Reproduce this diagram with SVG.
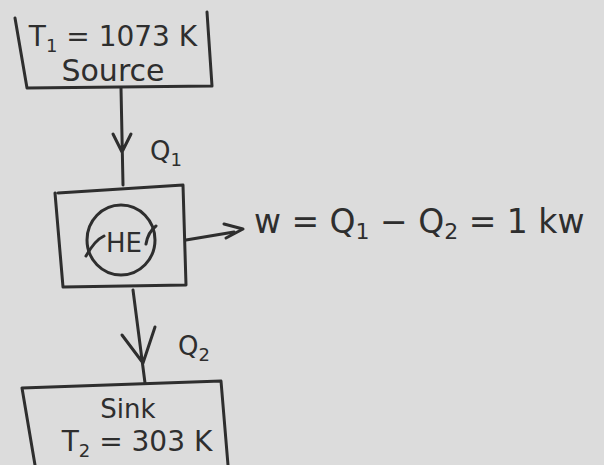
<svg xmlns="http://www.w3.org/2000/svg" width="604" height="465" viewBox="0 0 604 465">
<style>
.ln{fill:none;stroke:#2e2e2e;stroke-width:3;stroke-linecap:round;stroke-linejoin:round}
.tx{font-family:"DejaVu Sans","Liberation Sans",sans-serif;fill:#2e2e2e}
</style>
<rect width="604" height="465" fill="#dcdcdc"/>
<g id="source">
<path class="ln" d="M15 18 L27 88 L212 86 M207 12 L212 86"/>
<text class="tx" x="113" y="46" font-size="28" text-anchor="middle">T<tspan font-size="18" dy="6">1</tspan><tspan dy="-6"> = 1073 K</tspan></text>
<text class="tx" x="113" y="81" font-size="30" text-anchor="middle">Source</text>
</g>
<g id="engine">
<path class="ln" d="M55 193 L63 287 L186 285 L183 185 L58 193"/>
<ellipse class="ln" cx="121" cy="240" rx="34" ry="35"/>
<path class="ln" d="M86 256 Q95 240 104 236 M156 226 Q148 232 146 244"/>
<text class="tx" x="124" y="252" font-size="26" text-anchor="middle">HE</text>
</g>
<g id="sink">
<path class="ln" d="M22 388 L35 465 M22 388 L221 381 L228 465"/>
<text class="tx" x="128" y="418" font-size="26" text-anchor="middle">Sink</text>
<text class="tx" x="137" y="451" font-size="28" text-anchor="middle">T<tspan font-size="18" dy="6">2</tspan><tspan dy="-6"> = 303 K</tspan></text>
</g>
<g id="connectors">
<path class="ln" d="M121 88 L123 185 M113 134 L122 152 L131 134"/>
<text class="tx" x="150" y="160" font-size="26">Q<tspan font-size="18" dy="6">1</tspan></text>
<path class="ln" d="M186 240 L234 232 M224 224 L243 229 L226 238"/>
<text class="tx" x="254" y="233" font-size="33">w = Q<tspan font-size="22" dy="6">1</tspan><tspan dy="-6"> − Q</tspan><tspan font-size="22" dy="6">2</tspan><tspan dy="-6"> = 1 kw</tspan></text>
<path class="ln" d="M133 290 L145 383 M122 335 L143 363 L155 327"/>
<text class="tx" x="178" y="355" font-size="26">Q<tspan font-size="18" dy="6">2</tspan></text>
</g>
</svg>
